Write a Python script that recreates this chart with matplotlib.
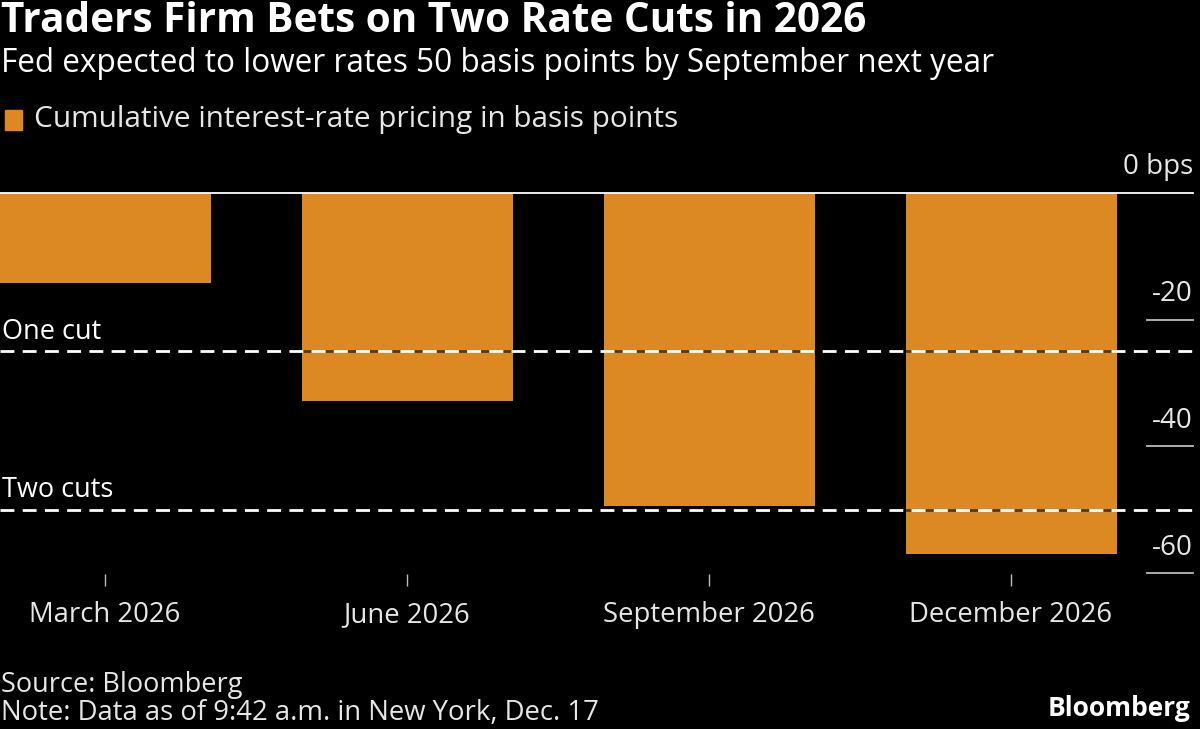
import matplotlib
matplotlib.use("Agg")
import matplotlib.pyplot as plt

# Chart data
categories = ["March 2026", "June 2026", "September 2026", "December 2026"]
pricing_bps = [-14.3, -32.8, -49.4, -56.9]
cut_levels = [-25, -50]
cut_labels = ["One cut", "Two cuts"]
y_ticks = [0, -20, -40, -60]
y_tick_labels = ["0 bps", "-20", "-40", "-60"]

W, H = 1200, 729
BAR = "#DC8823"
TXT = "#E6E6E6"
plt.rcParams["font.family"] = ["Open Sans", "DejaVu Sans"]


def px(x, y):
    # pixel coordinates (from top-left) to figure fraction
    return x / W, 1 - y / H


def main() -> None:
    fig = plt.figure(figsize=(W / 100, H / 100), dpi=100, facecolor="black")

    # axes: y=0 at 192.7 px, y=-62 at 586 px; x spans 0..1193 px
    y0, y_bot = 192.7, 586.0
    ax = fig.add_axes([0, 1 - y_bot / H, 1193 / W, (y_bot - y0) / H])
    ax.set_facecolor("black")
    xs = list(range(len(categories)))
    unit = 302.0
    ax.set_xlim(-105 / unit, (1193 - 105) / unit)
    ax.set_ylim(-62, 0)

    ax.bar(xs, pricing_bps, width=211 / unit, color=BAR, zorder=2)

    # reference lines
    for lvl, lab in zip(cut_levels, cut_labels):
        ax.axhline(lvl, color="white", lw=2, ls=(0, (5, 3)),
                   gapcolor=(0, 0, 0, 0.6), zorder=3)
        ax.text(2 / unit - 105 / unit, lvl + 0.9, lab, color="white",
                fontsize=19.5, ha="left", va="bottom", zorder=4)

    ax.axhline(0, color="white", lw=1.3, zorder=4, clip_on=False)

    # right-side value labels with short tick lines
    x_tick0 = (1147 - 105) / unit
    x_tick1 = (1193 - 105) / unit
    for v, lab in zip(y_ticks, y_tick_labels):
        if v != 0:
            ax.plot([x_tick0, x_tick1], [v, v], color="#BBBBBB", lw=1.3,
                    clip_on=False)
        ax.text(x_tick1, v + 1.8, lab, color=TXT, fontsize=20,
                ha="right", va="bottom")

    ax.set_xticks(xs)
    ax.set_xticklabels(categories, color=TXT, fontsize=19.8)
    ax.tick_params(axis="x", direction="in", length=8.5, width=1,
                   color="#BBBBBB", pad=11)
    ax.set_yticks([])
    for s in ax.spines.values():
        s.set_visible(False)

    # headers
    fig.text(*px(1, 21), "Traders Firm Bets on Two Rate Cuts in 2026",
             color="white", fontsize=29.2, fontweight="bold", va="center")
    fig.text(*px(1, 63),
             "Fed expected to lower rates 50 basis points by September next year",
             color="white", fontsize=22.7, va="center")
    fig.patches.append(plt.Rectangle(px(5, 130), 17 / W, 20 / H,
                                     transform=fig.transFigure, color=BAR))
    fig.text(*px(34, 120), "Cumulative interest-rate pricing in basis points",
             color=TXT, fontsize=21.4, va="center")

    # footer
    fig.text(*px(1, 685), "Source: Bloomberg", color=TXT, fontsize=19.5,
             va="center")
    fig.text(*px(1, 713), "Note: Data as of 9:42 a.m. in New York, Dec. 17",
             color=TXT, fontsize=19.8, va="center")
    fig.text(*px(1190, 708), "Bloomberg", color="white", fontsize=19,
             fontweight="bold", ha="right", va="center")

    fig.savefig("out.png", dpi=100, facecolor="black")


if __name__ == '__main__':
    main()
